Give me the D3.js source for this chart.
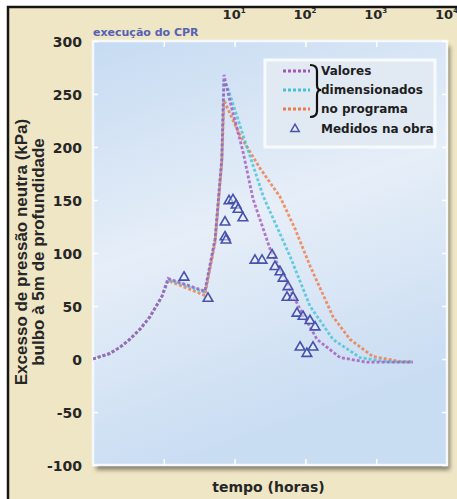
<!DOCTYPE html>
<html><head><meta charset="utf-8">
<script src="https://cdn.jsdelivr.net/npm/d3@7"></script>
<style>body{margin:0;background:#fff}svg{display:block}</style>
</head><body><svg id="c" width="457" height="499"></svg>
<script>
// ---------- data ----------
const yTicks = [-100, -50, 0, 50, 100, 150, 200, 250, 300];
const xLabelValues = [10, 100, 1000, 10000];
const xTickValues = [1, 10, 100, 1000];
const legendLabels = ["Valores", "dimensionados", "no programa", "Medidos na obra"];
const noteLabel = "execução do CPR";
const xTitle = "tempo (horas)";
const yTitleLines = ["Excesso de pressão neutra (kPa)", "bulbo à 5m de profundidade"];

// [tempo (h), kPa]
const purpleSeries = [[0.1,0],[0.17,5],[0.24,11],[0.33,18.5],[0.46,28],[0.64,40],[0.94,59],[1.15,76],[3.8,64],[5.3,113],[6.6,189],[7.08,268],[8.6,243],[13.1,196],[18.2,151],[31.6,104],[51.5,75],[84,47],[146,18.5],[308,1.4],[741,-3],[3300,-3]];
const cyanSeries = [[0.1,0],[0.17,5],[0.24,11],[0.33,18.5],[0.46,28],[0.64,40],[0.94,59],[1.15,75],[3.8,63],[5.3,113],[6.6,189],[7.08,263],[8.07,255],[13.2,211],[25.2,154],[60.6,97],[116,50],[245,18.5],[589,1.4],[1413,-2.5],[3300,-3]];
const orangeSeries = [[0.1,0],[0.17,5],[0.24,11],[0.33,18.5],[0.46,28],[0.64,40],[0.94,59],[1.15,74],[3.8,60],[5.3,110],[6.6,186],[7.08,244],[11.9,211],[22.8,180],[43.8,153],[71.3,123],[116,88],[245,40],[427,18.5],[901,2.4],[2168,-2.4],[3300,-2.4]];
const measured = [[1.93,78],[4.21,58],[8.34,150],[9.49,151],[10.5,146],[11.2,142],[13.1,134],[7.32,130],[7.32,116],[7.56,113],[19.4,94],[24.4,94],[33.8,99],[37.2,88],[43.8,83],[48.3,77],[56.8,69],[55,59],[66.8,59],[76,44],[92.5,41],[116,37],[137,31],[84,12],[105,6],[128,12]];

const seriesColors = ["#a456bd", "#45c3d3", "#ef7a45"];

// ---------- layout ----------
const svg = d3.select("#c");
const M = {left: 93, right: 447, top: 41, bottom: 465};
const x = d3.scaleLog().domain([0.1, 10000]).range([M.left, M.right]);
const y = d3.scaleLinear().domain([-100, 300]).range([M.bottom, M.top]);
const BOLD = "'DejaVu Sans', sans-serif";
const TXT = "#262626";

const defs = svg.append("defs");
const g1 = defs.append("linearGradient").attr("id", "bg").attr("x1", 0).attr("y1", 0).attr("x2", 0.3).attr("y2", 1);
g1.append("stop").attr("offset", "0%").attr("stop-color", "#c6dbf2");
g1.append("stop").attr("offset", "50%").attr("stop-color", "#e6eef8");
g1.append("stop").attr("offset", "100%").attr("stop-color", "#c8dcf2");
defs.append("filter").attr("id", "blur").attr("x", "-10%").attr("y", "-10%").attr("width", "120%").attr("height", "120%")
  .append("feGaussianBlur").attr("stdDeviation", 2);
defs.append("clipPath").attr("id", "clip").append("rect")
  .attr("x", M.left).attr("y", M.top).attr("width", M.right - M.left).attr("height", M.bottom - M.top);

// frame + beige background
svg.append("rect").attr("x", 8).attr("y", 7).attr("width", 470).attr("height", 510)
  .attr("fill", "#efe6c6").attr("stroke", "#161616").attr("stroke-width", 2.5);

// plot shadow and plot area
svg.append("rect").attr("x", M.left + 3).attr("y", M.top + 5)
  .attr("width", M.right - M.left).attr("height", M.bottom - M.top)
  .attr("fill", "#6f6b58").attr("opacity", 0.8).attr("filter", "url(#blur)");
svg.append("rect").attr("x", M.left).attr("y", M.top)
  .attr("width", M.right - M.left).attr("height", M.bottom - M.top)
  .attr("fill", "url(#bg)").attr("stroke", "#f6f9fc").attr("stroke-width", 2.5);

// ---------- axes ----------
function styleTicks(g) {
  g.select(".domain").remove();
  g.selectAll(".tick line").attr("stroke", "#ffffff").attr("stroke-width", 1.5);
}
const ax = svg.append("g").attr("transform", `translate(${M.left},0)`)
  .call(d3.axisLeft(y).tickValues(yTicks).tickSize(-5).tickPadding(11).tickFormat(d => String(d)));
styleTicks(ax);
ax.selectAll(".tick text").attr("font-family", BOLD).attr("font-weight", "bold")
  .attr("font-size", 14).attr("fill", TXT).attr("dy", "0.4em");
svg.append("g").attr("transform", `translate(${M.right},0)`)
  .call(d3.axisRight(y).tickValues(yTicks).tickSize(-5).tickFormat(""))
  .call(styleTicks);
svg.append("g").attr("transform", `translate(0,${M.top})`)
  .call(d3.axisTop(x).tickValues(xTickValues).tickSize(-6).tickFormat(""))
  .call(styleTicks);
svg.append("g").attr("transform", `translate(0,${M.bottom})`)
  .call(d3.axisBottom(x).tickValues(xTickValues).tickSize(-6).tickFormat(""))
  .call(styleTicks);
const tl = svg.append("g").attr("transform", `translate(0,${M.top})`)
  .call(d3.axisTop(x).tickValues(xLabelValues).tickSize(0).tickPadding(22));
tl.select(".domain").remove();
tl.selectAll(".tick text").each(function(d) {
  const t = d3.select(this);
  t.text(null).attr("font-family", BOLD).attr("font-weight", "bold").attr("font-size", 13)
    .attr("fill", TXT).attr("dx", -1).attr("dy", 0);
  t.append("tspan").text("10");
  t.append("tspan").attr("font-size", 7).attr("dy", -6).text(Math.round(Math.log10(d)));
});

// ---------- lines ----------
const line = d3.line().x(d => x(d[0])).y(d => y(d[1]));
const plotG = svg.append("g").attr("clip-path", "url(#clip)");
[orangeSeries, cyanSeries, purpleSeries].forEach((s, i) => {
  const col = [seriesColors[2], seriesColors[1], seriesColors[0]][i];
  plotG.append("path").datum(s).attr("d", line)
    .attr("fill", "none").attr("stroke", col).attr("stroke-width", 2.8)
    .attr("stroke-dasharray", "3,2").attr("opacity", 0.8);
});

const tri = d3.symbol().type(d3.symbolTriangle).size(40);
plotG.selectAll(".m").data(measured).enter().append("path")
  .attr("transform", d => `translate(${x(d[0])},${y(d[1]) + 1})`)
  .attr("d", tri).attr("fill", "rgba(235,240,252,0.55)")
  .attr("stroke", "#4652ad").attr("stroke-width", 1.6);

// ---------- legend ----------
const lg = svg.append("g");
lg.append("rect").attr("x", 265).attr("y", 60).attr("width", 170).attr("height", 87)
  .attr("fill", "#e1e9f3").attr("stroke", "#f8fbfe").attr("stroke-width", 3);
const lineYs = [71, 90, 109];
seriesColors.forEach((c, i) => {
  lg.append("line").attr("x1", 283).attr("x2", 310).attr("y1", lineYs[i]).attr("y2", lineYs[i])
    .attr("stroke", c).attr("stroke-width", 2.8).attr("stroke-dasharray", "3,2");
});
lg.append("path").attr("transform", "translate(295,129)").attr("d", d3.symbol().type(d3.symbolTriangle).size(30))
  .attr("fill", "rgba(235,240,252,0.6)").attr("stroke", "#4652ad").attr("stroke-width", 1.5);
lg.append("path").attr("d", "M310,65 Q317,65 317,71 L317,85 Q317,90 321,90 Q317,90 317,95 L317,111 Q317,117 310,117")
  .attr("fill", "none").attr("stroke", "#111").attr("stroke-width", 2.2);
const textYs = [75, 94, 113, 133];
legendLabels.forEach((t, i) => {
  lg.append("text").attr("x", 321).attr("y", textYs[i]).text(t)
    .attr("font-family", BOLD).attr("font-weight", "bold").attr("font-size", 12).attr("fill", "#1e1e1e");
});

// ---------- titles ----------
svg.append("text").attr("x", 93).attr("y", 36).text(noteLabel)
  .attr("font-family", BOLD).attr("font-weight", "bold").attr("font-size", 11).attr("fill", "#5562b3");
svg.append("text").attr("x", 268.5).attr("y", 492).attr("text-anchor", "middle").text(xTitle)
  .attr("font-family", BOLD).attr("font-weight", "bold").attr("font-size", 14).attr("fill", TXT);
const yt = [27, 44];
yTitleLines.forEach((t, i) => {
  svg.append("text").attr("transform", `translate(${yt[i]},252) rotate(-90)`)
    .attr("text-anchor", "middle").text(t)
    .attr("font-family", "'Liberation Sans', Arial, sans-serif").attr("font-weight", "bold")
    .attr("font-size", 17).attr("fill", TXT);
});
</script></body></html>
